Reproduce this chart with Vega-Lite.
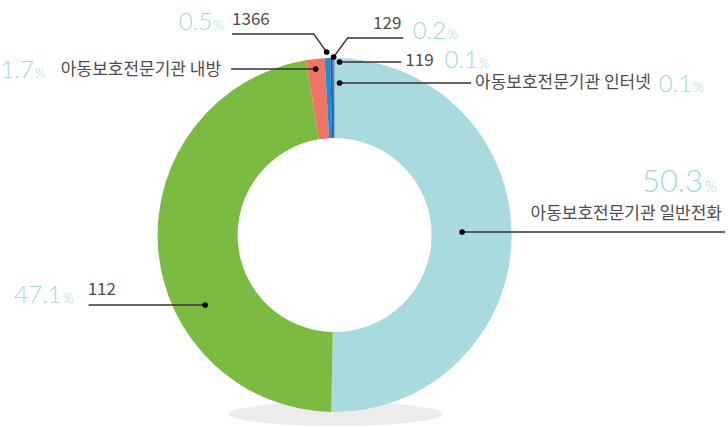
{
  "$schema": "https://vega.github.io/schema/vega-lite/v6.json",
  "width": 728,
  "height": 427,
  "autosize": {"type": "fit", "contains": "padding"},
  "padding": 0,
  "background": "white",
  "config": {"view": {"stroke": null}},
  "datasets": {
    "slices": [
      {"cat": "아동보호전문기관 일반전화", "value": 50.3, "ord": 1},
      {"cat": "112", "value": 47.1, "ord": 2},
      {"cat": "아동보호전문기관 내방", "value": 1.7, "ord": 3},
      {"cat": "1366", "value": 0.5, "ord": 4},
      {"cat": "129", "value": 0.2, "ord": 5},
      {"cat": "119", "value": 0.1, "ord": 6},
      {"cat": "아동보호전문기관 인터넷", "value": 0.1, "ord": 7}
    ],
    "lines": [
      {"id": "a", "seq": 1, "lx": 128, "ly": 3},
      {"id": "a", "seq": 2, "lx": 392, "ly": 3},
      {"id": "b", "seq": 1, "lx": -130, "ly": -70},
      {"id": "b", "seq": 2, "lx": -247, "ly": -70},
      {"id": "c", "seq": 1, "lx": -19, "ly": 166},
      {"id": "c", "seq": 2, "lx": -104, "ly": 166},
      {"id": "d", "seq": 1, "lx": -8, "ly": 183},
      {"id": "d", "seq": 2, "lx": -21, "ly": 201},
      {"id": "d", "seq": 3, "lx": -103, "ly": 201},
      {"id": "e", "seq": 1, "lx": -1, "ly": 178},
      {"id": "e", "seq": 2, "lx": 13, "ly": 197},
      {"id": "e", "seq": 3, "lx": 69, "ly": 197},
      {"id": "f", "seq": 1, "lx": 5, "ly": 173},
      {"id": "f", "seq": 2, "lx": 67, "ly": 173},
      {"id": "g", "seq": 1, "lx": 5, "ly": 152},
      {"id": "g", "seq": 2, "lx": 137, "ly": 152}
    ],
    "dots": [
      {"dx": 128, "dy": 3},
      {"dx": -130, "dy": -70},
      {"dx": -19, "dy": 166},
      {"dx": -8, "dy": 183},
      {"dx": -1, "dy": 178},
      {"dx": 5, "dy": 173},
      {"dx": 5, "dy": 152}
    ],
    "names": [
      {"t": "아동보호전문기관 일반전화", "tx": 389, "ty": 21.5, "side": "right"},
      {"t": "아동보호전문기관 내방", "tx": -114, "ty": 165, "side": "right"},
      {"t": "129", "tx": 67, "ty": 211, "side": "right"},
      {"t": "아동보호전문기관 인터넷", "tx": 141, "ty": 152.5, "side": "left"},
      {"t": "112", "tx": -248, "ty": -54.5, "side": "left"},
      {"t": "1366", "tx": -103, "ty": 215, "side": "left"},
      {"t": "119", "tx": 71, "ty": 174, "side": "left"}
    ],
    "pcts": [
      {"p": "50.3", "px": 370, "py": 43, "big": true},
      {"p": "47.1", "px": -274, "py": -68, "big": false},
      {"p": "1.7", "px": -302, "py": 157, "big": false},
      {"p": "0.5", "px": -123, "py": 205, "big": false},
      {"p": "0.2", "px": 112, "py": 196, "big": false},
      {"p": "0.1", "px": 144, "py": 167, "big": false},
      {"p": "0.1", "px": 359, "py": 143, "big": false}
    ]
  },
  "encoding": {},
  "layer": [
    {
      "data": {"values": [{"ex": 1, "ey": -179}]},
      "mark": {"type": "point", "filled": true, "color": "#ececec", "opacity": 1, "size": 45796, "shape": "M -1 0 A 1 0.112 0 1 0 1 0 A 1 0.112 0 1 0 -1 0 Z"},
      "encoding": {
        "x": {"field": "ex", "type": "quantitative", "scale": {"domain": [-336, 392], "nice": false, "zero": false}, "axis": null},
        "y": {"field": "ey", "type": "quantitative", "scale": {"domain": [-192, 235], "nice": false, "zero": false}, "axis": null}
      }
    },
    {
      "data": {"name": "slices"},
      "mark": {"type": "arc", "outerRadius": 177, "innerRadius": 97},
      "encoding": {
        "x": {"datum": 0, "type": "quantitative"},
        "y": {"datum": 0, "type": "quantitative"},
        "theta": {"field": "value", "type": "quantitative", "stack": true},
        "order": {"field": "ord", "type": "quantitative"},
        "color": {
          "field": "cat", "type": "nominal", "legend": null,
          "scale": {
            "domain": ["아동보호전문기관 일반전화", "112", "아동보호전문기관 내방", "1366", "129", "119", "아동보호전문기관 인터넷"],
            "range": ["#a9dade", "#7bbb41", "#ee7465", "#1d8fd9", "#1b5ea9", "#20396e", "#5b8fb0"]
          }
        }
      }
    },
    {
      "data": {"name": "lines"},
      "mark": {"type": "line", "color": "#333333", "strokeWidth": 1.3},
      "encoding": {
        "x": {"field": "lx", "type": "quantitative"},
        "y": {"field": "ly", "type": "quantitative"},
        "detail": {"field": "id", "type": "nominal"},
        "order": {"field": "seq", "type": "quantitative"}
      }
    },
    {
      "data": {"name": "dots"},
      "mark": {"type": "point", "filled": true, "color": "#000000", "opacity": 1, "size": 32},
      "encoding": {
        "x": {"field": "dx", "type": "quantitative"},
        "y": {"field": "dy", "type": "quantitative"}
      }
    },
    {
      "data": {"name": "names"},
      "transform": [{"filter": "datum.side === 'right'"}],
      "mark": {"type": "text", "align": "right", "baseline": "middle", "font": "Noto Sans CJK KR", "fontSize": 17, "color": "#4d4d4d"},
      "encoding": {
        "x": {"field": "tx", "type": "quantitative"},
        "y": {"field": "ty", "type": "quantitative"},
        "text": {"field": "t"}
      }
    },
    {
      "data": {"name": "names"},
      "transform": [{"filter": "datum.side === 'left'"}],
      "mark": {"type": "text", "align": "left", "baseline": "middle", "font": "Noto Sans CJK KR", "fontSize": 17, "color": "#4d4d4d"},
      "encoding": {
        "x": {"field": "tx", "type": "quantitative"},
        "y": {"field": "ty", "type": "quantitative"},
        "text": {"field": "t"}
      }
    },
    {
      "data": {"name": "pcts"},
      "transform": [{"filter": "datum.big"}],
      "mark": {"type": "text", "align": "right", "baseline": "alphabetic", "font": "Lato", "fontWeight": 300, "fontSize": 31, "color": "#a6d8de"},
      "encoding": {
        "x": {"field": "px", "type": "quantitative"},
        "y": {"field": "py", "type": "quantitative"},
        "text": {"field": "p"}
      }
    },
    {
      "data": {"name": "pcts"},
      "transform": [{"filter": "datum.big"}],
      "mark": {"type": "text", "align": "left", "baseline": "alphabetic", "font": "Lato", "fontWeight": 300, "fontSize": 15, "color": "#a6d8de", "dx": 2},
      "encoding": {
        "x": {"field": "px", "type": "quantitative"},
        "y": {"field": "py", "type": "quantitative"},
        "text": {"value": "%"}
      }
    },
    {
      "data": {"name": "pcts"},
      "transform": [{"filter": "!datum.big"}],
      "mark": {"type": "text", "align": "right", "baseline": "alphabetic", "font": "Lato", "fontWeight": 300, "fontSize": 24, "color": "#a6d8de"},
      "encoding": {
        "x": {"field": "px", "type": "quantitative"},
        "y": {"field": "py", "type": "quantitative"},
        "text": {"field": "p"}
      }
    },
    {
      "data": {"name": "pcts"},
      "transform": [{"filter": "!datum.big"}],
      "mark": {"type": "text", "align": "left", "baseline": "alphabetic", "font": "Lato", "fontWeight": 300, "fontSize": 14, "color": "#a6d8de", "dx": 1},
      "encoding": {
        "x": {"field": "px", "type": "quantitative"},
        "y": {"field": "py", "type": "quantitative"},
        "text": {"value": "%"}
      }
    }
  ]
}
